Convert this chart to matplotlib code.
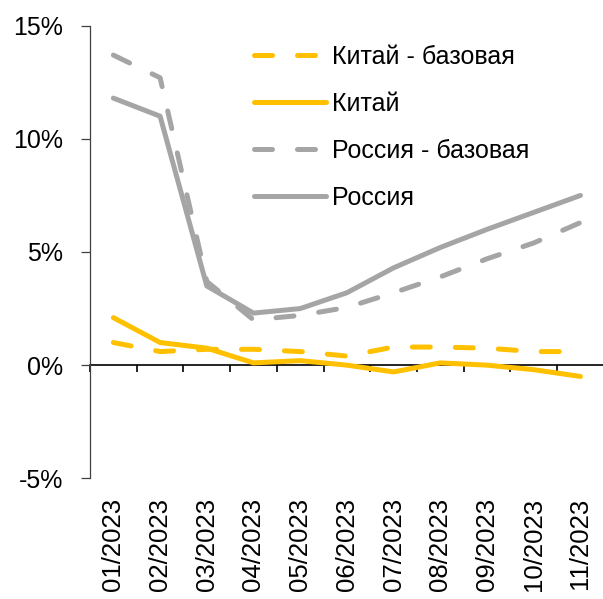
import matplotlib
matplotlib.use('Agg')
import matplotlib.pyplot as plt

plt.rcParams['font.family'] = ['Liberation Sans', 'DejaVu Sans']

# данные
months = ['01/2023', '02/2023', '03/2023', '04/2023', '05/2023', '06/2023',
          '07/2023', '08/2023', '09/2023', '10/2023', '11/2023']
china_base = [1.0, 0.6, 0.7, 0.7, 0.6, 0.4, 0.8, 0.8, 0.75, 0.6, 0.6]
china = [2.1, 1.0, 0.75, 0.1, 0.2, 0.0, -0.3, 0.1, 0.0, -0.2, -0.5]
russia_base = [13.7, 12.7, 3.7, 2.0, 2.2, 2.55, 3.2, 3.9, 4.7, 5.4, 6.3]
russia = [11.8, 11.0, 3.5, 2.3, 2.5, 3.2, 4.3, 5.2, 6.0, 6.75, 7.5]
yticks = [-5, 0, 5, 10, 15]

YELLOW = '#FFC000'
GRAY = '#A5A5A5'

fig = plt.figure(figsize=(6.03, 5.99), dpi=100)
ax = fig.add_axes([0.1493, 0.2015, 0.852, 0.7556])

x = list(range(len(months)))
lw = 3.6
dash = (3.6, 5.0)
ax.plot(x, china_base, color=YELLOW, lw=lw, dashes=dash, dash_capstyle='round',
        solid_capstyle='round', label='Китай - базовая')
ax.plot(x, china, color=YELLOW, lw=lw, solid_capstyle='round', label='Китай')
ax.plot(x, russia_base, color=GRAY, lw=lw, dashes=dash, dash_capstyle='round',
        label='Россия - базовая')
ax.plot(x, russia, color=GRAY, lw=lw, solid_capstyle='round', label='Россия')

ax.set_xlim(-0.5, len(months) - 0.5)
ax.set_ylim(-5, 15)
ax.set_yticks(yticks)
ax.set_yticklabels([f'{v}%' for v in yticks])

for s in ['top', 'right', 'bottom']:
    ax.spines[s].set_visible(False)
ax.spines['left'].set_color('#404040')
ax.spines['left'].set_linewidth(0.9)
ax.tick_params(axis='y', direction='out', length=6.5, width=0.9, color='#404040',
               pad=13, labelsize=18)

# подписи месяцев внизу
ax.set_xticks(x)
ax.set_xticklabels(months, rotation=90, va='top')
ax.tick_params(axis='x', length=0, pad=14, labelsize=18.5)

# ось на нуле с делениями между категориями
sec = ax.secondary_xaxis(0.25)
sec.set_xticks([i - 0.5 for i in range(len(months) + 1)])
sec.tick_params(axis='x', direction='out', length=5, width=1.2, color='black',
                labelbottom=False)
sec.spines['bottom'].set_color('black')
sec.spines['bottom'].set_linewidth(1.2)

fig.legend(loc='upper left', bbox_to_anchor=(0.421, 0.925), frameon=False,
           fontsize=18, handlelength=2.88, handletextpad=0.25, labelspacing=0.92,
           borderpad=0, borderaxespad=0)

fig.savefig('out.png', dpi=100)
